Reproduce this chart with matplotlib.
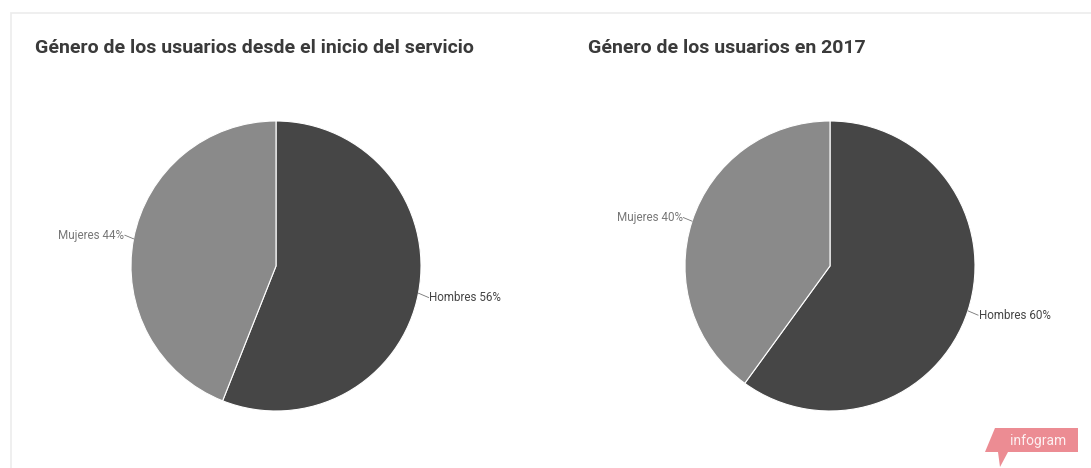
import numpy as np
import matplotlib
matplotlib.use('Agg')
import matplotlib.pyplot as plt
from matplotlib.patches import Rectangle, Polygon

plt.rcParams['font.family'] = ['Roboto', 'DejaVu Sans']

# Datos de las dos tartas
titulos = ['Género de los usuarios desde el inicio del servicio',
           'Género de los usuarios en 2017']
categorias = ['Hombres', 'Mujeres']
valores_total = [56, 44]
valores_2017 = [60, 40]
colores = ['#464646', '#8a8a8a']
color_texto = ['#444444', '#777777']

W, H = 1091, 468
fig = plt.figure(figsize=(W / 100, H / 100), dpi=100)
fig.patch.set_facecolor('white')

# marco claro de la tarjeta
fig.add_artist(Rectangle((11 / W, -0.1), 1.2, (H - 13) / H + 0.1,
                         transform=fig.transFigure, facecolor='none',
                         edgecolor='#ececec', linewidth=1.2))

def pix_ax(cx, cy, r):
    # eje cuadrado centrado en (cx, cy) en píxeles desde arriba
    return fig.add_axes([(cx - r) / W, (H - cy - r) / H, 2 * r / W, 2 * r / H])

def tarta(ax, valores):
    wedges, _ = ax.pie(valores, colors=colores, startangle=90, counterclock=False,
                       wedgeprops=dict(edgecolor='white', linewidth=0.8))
    ax.set_xlim(-1, 1)
    ax.set_ylim(-1, 1)
    ax.set_aspect('equal')
    ax.axis('off')
    for w, cat, val, tc in zip(wedges, categorias, valores, color_texto):
        ang = np.deg2rad((w.theta1 + w.theta2) / 2)
        x, y = np.cos(ang), np.sin(ang)
        derecha = x > 0
        x2 = x + (0.07 if derecha else -0.06)
        y2 = y - 0.03 if derecha else y + 0.025
        ax.plot([x, x2], [y, y2], color='#777777', lw=0.6, clip_on=False)
        ax.text(x2 + (0.005 if derecha else -0.005), y2, f'{cat} {val}%',
                ha='left' if derecha else 'right', va='center', fontsize=8.4,
                color=tc, clip_on=False)

tarta(pix_ax(276, 266, 145), valores_total)
tarta(pix_ax(830, 266, 145), valores_2017)

fig.text(35 / W, 1 - 48 / H, titulos[0], fontsize=14, fontweight='semibold',
         color='#3a3a3a', va='center', ha='left')
fig.text(588 / W, 1 - 48 / H, titulos[1], fontsize=14, fontweight='semibold',
         color='#3a3a3a', va='center', ha='left')

# etiqueta de infogram
pts = np.array([[995, 428], [1078, 428], [1078, 452], [1008, 452],
                [1000, 467], [998, 452], [985, 452]], dtype=float)
pts[:, 0] /= W
pts[:, 1] = 1 - pts[:, 1] / H
fig.add_artist(Polygon(pts, closed=True, transform=fig.transFigure,
                       facecolor='#ec8c93', edgecolor='none'))
fig.text(1038 / W, 1 - 441 / H, 'infogram', fontsize=10, color='#fdf0f1',
         ha='center', va='center')

fig.savefig('out.png', dpi=100)
